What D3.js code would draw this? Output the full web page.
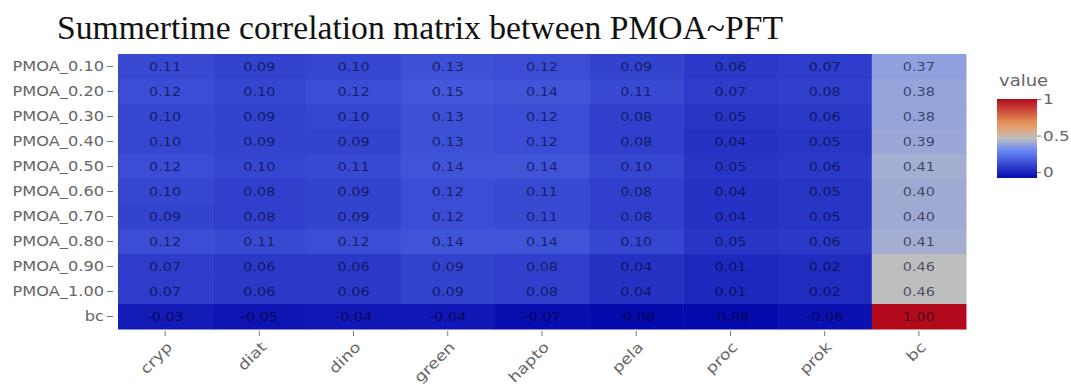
<!DOCTYPE html>
<html>
<head>
<meta charset="utf-8">
<script src="https://cdn.jsdelivr.net/npm/d3@7"></script>
<style>
  html, body { margin: 0; padding: 0; background: #fff; }
  svg { display: block; }
</style>
</head>
<body>
<svg id="chart" width="1071" height="386"></svg>
<script>
// Correlation of PMOA size bins (and bc) with phytoplankton functional types
const columns = ["cryp", "diat", "dino", "green", "hapto", "pela", "proc", "prok", "bc"];
const rows = ["PMOA_0.10", "PMOA_0.20", "PMOA_0.30", "PMOA_0.40", "PMOA_0.50",
              "PMOA_0.60", "PMOA_0.70", "PMOA_0.80", "PMOA_0.90", "PMOA_1.00", "bc"];
const values = [
  [0.11, 0.09, 0.10, 0.13, 0.12, 0.09, 0.06, 0.07, 0.37],
  [0.12, 0.10, 0.12, 0.15, 0.14, 0.11, 0.07, 0.08, 0.38],
  [0.10, 0.09, 0.10, 0.13, 0.12, 0.08, 0.05, 0.06, 0.38],
  [0.10, 0.09, 0.09, 0.13, 0.12, 0.08, 0.04, 0.05, 0.39],
  [0.12, 0.10, 0.11, 0.14, 0.14, 0.10, 0.05, 0.06, 0.41],
  [0.10, 0.08, 0.09, 0.12, 0.11, 0.08, 0.04, 0.05, 0.40],
  [0.09, 0.08, 0.09, 0.12, 0.11, 0.08, 0.04, 0.05, 0.40],
  [0.12, 0.11, 0.12, 0.14, 0.14, 0.10, 0.05, 0.06, 0.41],
  [0.07, 0.06, 0.06, 0.09, 0.08, 0.04, 0.01, 0.02, 0.46],
  [0.07, 0.06, 0.06, 0.09, 0.08, 0.04, 0.01, 0.02, 0.46],
  [-0.03, -0.05, -0.04, -0.04, -0.07, -0.08, -0.08, -0.06, 1.00]
];
const colorbarTicks = [0, 0.5, 1];
const titleText = "Summertime correlation matrix between PMOA~PFT";
const colorbarTitle = "value";

// Diverging blue-grey-red scale (RdBu style stops)
const stopPos = [0, 0.35, 0.5, 0.6, 0.7, 1];
const stopCol = ["rgb(5,10,172)", "rgb(106,137,247)", "rgb(190,190,190)",
                 "rgb(220,170,132)", "rgb(230,145,90)", "rgb(178,10,28)"];

const flat = values.flat();
const zmin = d3.min(flat), zmax = d3.max(flat);
const norm = d3.scaleLinear().domain([zmin, zmax]).range([0, 1]);
const ramp = d3.scaleLinear().domain(stopPos).range(stopCol).interpolate(d3.interpolateRgb);
const color = v => ramp(norm(v));

const svg = d3.select("#chart");
const margin = { left: 118, right: 966, top: 54, bottom: 329 };
const sx = 1.2; // horizontal text stretch

const x = d3.scaleBand().domain(columns).range([margin.left, margin.right]);
const y = d3.scaleBand().domain(rows).range([margin.top, margin.bottom]);

// Title
svg.append("text")
  .attr("x", 57).attr("y", 39)
  .attr("font-family", "Liberation Serif, Times New Roman, serif")
  .attr("font-size", 33)
  .attr("fill", "#111")
  .attr("textLength", 726)
  .attr("lengthAdjust", "spacingAndGlyphs")
  .text(titleText);

// Cells
const cells = [];
rows.forEach((r, i) => columns.forEach((c, j) => cells.push({ r, c, v: values[i][j] })));

svg.append("g").selectAll("rect").data(cells).join("rect")
  .attr("x", d => x(d.c))
  .attr("y", d => y(d.r))
  .attr("width", x.bandwidth() + 0.5)
  .attr("height", y.bandwidth() + 0.5)
  .attr("fill", d => color(d.v));

svg.append("g").selectAll("text").data(cells).join("text")
  .attr("transform", d => `translate(${x(d.c) + x.bandwidth() / 2},${y(d.r) + y.bandwidth() / 2 + 4.5}) scale(${sx},1)`)
  .attr("text-anchor", "middle")
  .attr("font-family", "DejaVu Sans, Verdana, sans-serif")
  .attr("font-size", 12)
  .attr("fill", "rgba(0,0,30,0.62)")
  .text(d => d.v.toFixed(2));

// Y axis
const yAxis = svg.append("g").attr("transform", `translate(${margin.left - 5},0)`)
  .call(d3.axisLeft(y).tickSize(6).tickSizeOuter(0));
yAxis.select(".domain").remove();
yAxis.selectAll("line").attr("stroke", "#777");
yAxis.selectAll("text")
  .attr("font-family", "DejaVu Sans, Verdana, sans-serif")
  .attr("font-size", 13.5)
  .attr("fill", "#666")
  .attr("x", null).attr("dy", "0.35em")
  .attr("transform", `translate(-9,0) scale(${sx},1)`);

// X axis
const xAxis = svg.append("g").attr("transform", `translate(0,${margin.bottom + 2})`)
  .call(d3.axisBottom(x).tickSize(5).tickSizeOuter(0));
xAxis.select(".domain").remove();
xAxis.selectAll("line").attr("stroke", "#777");
xAxis.selectAll("text")
  .attr("font-family", "DejaVu Sans, Verdana, sans-serif")
  .attr("font-size", 14.5)
  .attr("fill", "#666")
  .attr("text-anchor", "end")
  .attr("y", null).attr("dy", null)
  .attr("transform", `translate(8,17) rotate(-45) scale(${sx},1)`);

// Colorbar
const cb = { x: 997, w: 40, top: 99 };
const cbY = d3.scaleLinear().domain([zmin, zmax]).range([178, cb.top]);
const defs = svg.append("defs");
const grad = defs.append("linearGradient").attr("id", "cbgrad")
  .attr("x1", 0).attr("y1", 1).attr("x2", 0).attr("y2", 0);
stopPos.forEach((p, i) => grad.append("stop").attr("offset", p).attr("stop-color", stopCol[i]));

svg.append("rect")
  .attr("x", cb.x).attr("y", cbY(zmax))
  .attr("width", cb.w).attr("height", cbY(zmin) - cbY(zmax))
  .attr("fill", "url(#cbgrad)");

const cbAxis = svg.append("g").attr("transform", `translate(${cb.x + cb.w},0)`)
  .call(d3.axisRight(cbY).tickValues(colorbarTicks).tickSize(4).tickFormat(d3.format("")));
cbAxis.select(".domain").remove();
cbAxis.selectAll("line").attr("stroke", "#777");
cbAxis.selectAll("text")
  .attr("font-family", "DejaVu Sans, Verdana, sans-serif")
  .attr("font-size", 14)
  .attr("fill", "#666")
  .attr("x", null)
  .attr("transform", `translate(6,0) scale(${sx},1)`);

svg.append("text")
  .attr("transform", `translate(999,86) scale(${sx},1)`)
  .attr("font-family", "DejaVu Sans, Verdana, sans-serif")
  .attr("font-size", 15)
  .attr("fill", "#666")
  .text(colorbarTitle);
</script>
</body>
</html>
